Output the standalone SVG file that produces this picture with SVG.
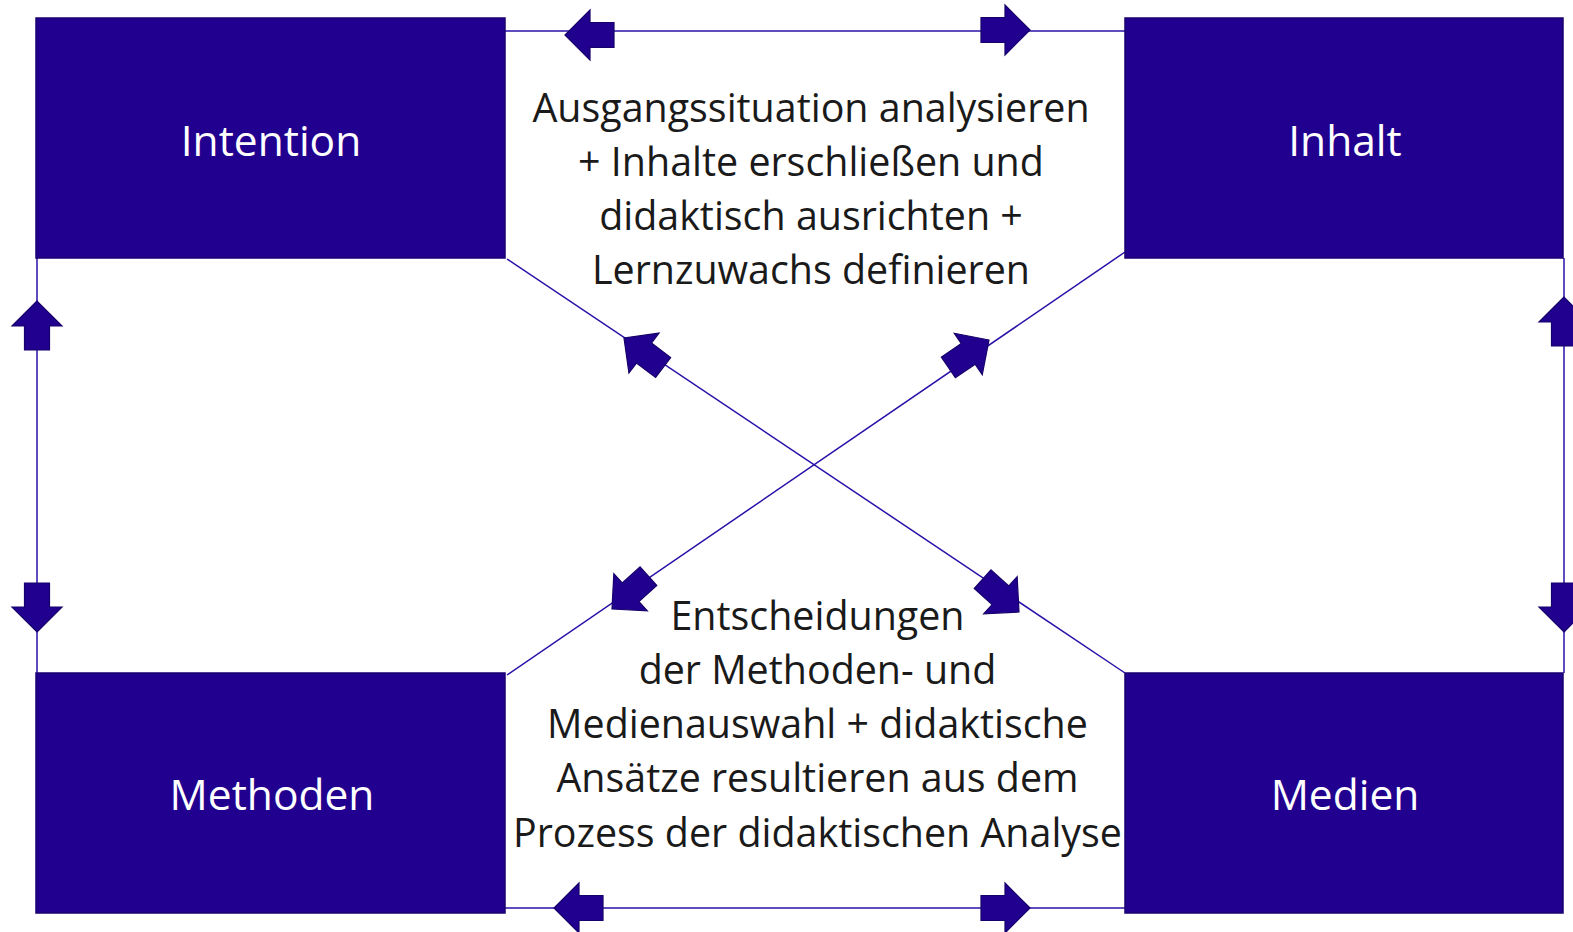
<svg xmlns="http://www.w3.org/2000/svg" width="1573" height="932" viewBox="0 0 1573 932">
<style>
.box{fill:#210090;stroke:#1a0070;stroke-width:1.5}
.lbl{fill:#ffffff;font-family:"Open Sans","Noto Sans",sans-serif;font-size:42.5px;text-anchor:middle}
.txt{fill:#1a1a1a;font-family:"Open Sans","Noto Sans",sans-serif;font-size:39.4px;text-anchor:middle}
.ln{stroke:#2a10a8;stroke-width:1.5;fill:none}
.arr{fill:#210090;stroke:#16006a;stroke-width:1.2}
</style>
<defs>
<polygon id="arrow" points="0,0 -25,-25 -25,-12.5 -49,-12.5 -49,12.5 -25,12.5 -25,25"/>
</defs>
<rect width="1573" height="932" fill="#ffffff"/>
<g id="connectors">
<line class="ln" x1="505" y1="31" x2="1125" y2="31"/>
<line class="ln" x1="505" y1="908" x2="1125" y2="908"/>
<line class="ln" x1="37" y1="258" x2="37" y2="673"/>
<line class="ln" x1="1564" y1="258" x2="1564" y2="673"/>
<line class="ln" x1="507" y1="259" x2="1125" y2="673"/>
<line class="ln" x1="1125" y1="252" x2="507" y2="675"/>
<use href="#arrow" class="arr" transform="translate(565,35) rotate(180)"/>
<use href="#arrow" class="arr" transform="translate(1030,30)"/>
<use href="#arrow" class="arr" transform="translate(554,908) rotate(180)"/>
<use href="#arrow" class="arr" transform="translate(1030,908)"/>
<use href="#arrow" class="arr" transform="translate(37,301) rotate(-90)"/>
<use href="#arrow" class="arr" transform="translate(37,632) rotate(90)"/>
<use href="#arrow" class="arr" transform="translate(1564,297) rotate(-90)"/>
<use href="#arrow" class="arr" transform="translate(1564,632) rotate(90)"/>
<use href="#arrow" class="arr" transform="translate(624,338) rotate(217)"/>
<use href="#arrow" class="arr" transform="translate(989,340) rotate(-34)"/>
<use href="#arrow" class="arr" transform="translate(612,609) rotate(138)"/>
<use href="#arrow" class="arr" transform="translate(1019,612) rotate(42)"/>
</g>
<g id="intention">
<rect class="box" x="36" y="18" width="469" height="240"/>
<text class="lbl" x="271" y="156">Intention</text>
</g>
<g id="inhalt">
<rect class="box" x="1125" y="18" width="438" height="240"/>
<text class="lbl" x="1345" y="156">Inhalt</text>
</g>
<g id="methoden">
<rect class="box" x="36" y="673" width="469" height="240"/>
<text class="lbl" x="272" y="810">Methoden</text>
</g>
<g id="medien">
<rect class="box" x="1125" y="673" width="438" height="240"/>
<text class="lbl" x="1345" y="810">Medien</text>
</g>
<g id="text-top">
<text class="txt" x="811" y="122">Ausgangssituation analysieren</text>
<text class="txt" x="811" y="176">+ Inhalte erschließen und</text>
<text class="txt" x="811" y="230">didaktisch ausrichten +</text>
<text class="txt" x="811" y="284">Lernzuwachs definieren</text>
</g>
<g id="text-bottom">
<text class="txt" x="817.5" y="630">Entscheidungen</text>
<text class="txt" x="817.5" y="684">der Methoden- und</text>
<text class="txt" x="817.5" y="738">Medienauswahl + didaktische</text>
<text class="txt" x="817.5" y="792">Ansätze resultieren aus dem</text>
<text class="txt" x="817.5" y="847">Prozess der didaktischen Analyse</text>
</g>
</svg>
